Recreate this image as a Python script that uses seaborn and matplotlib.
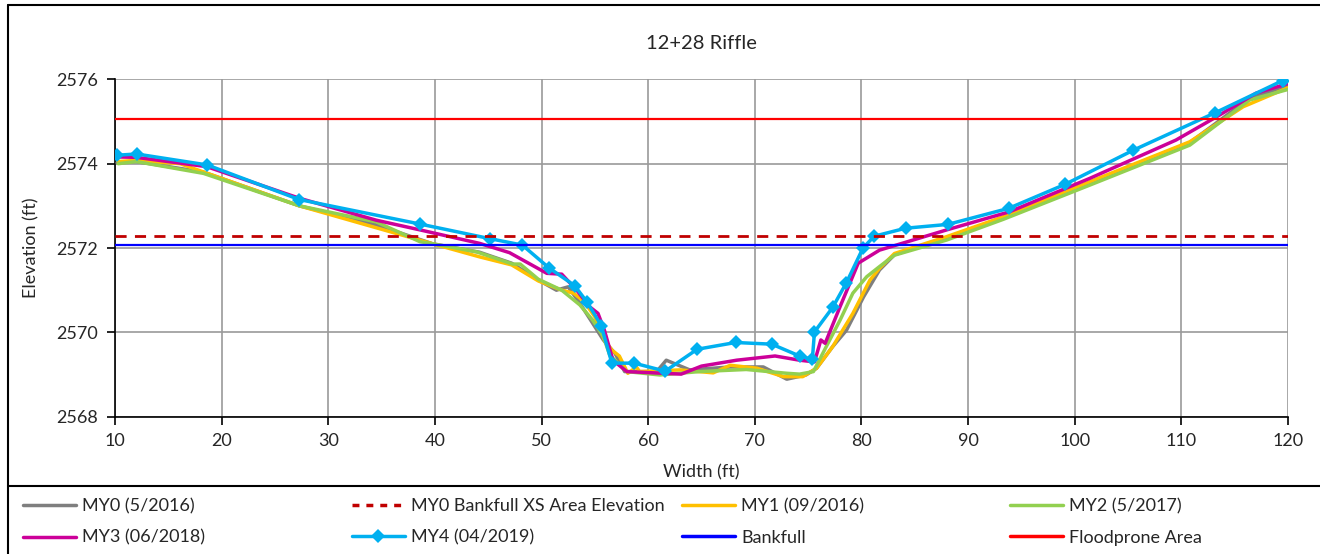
"""
12+28 Riffle 断面图
"""
import matplotlib
matplotlib.use('Agg')
import matplotlib.pyplot as plt
from matplotlib.lines import Line2D
import seaborn as sns
import pandas as pd

# 数据
my0_x = [10.2, 12.0, 18.3, 27.3, 34.5, 39.8, 44.2, 47.2, 49.7, 51.4, 52.5, 53.6, 55.8, 56.9, 57.8,
         60.8, 61.7, 63.9, 67.7, 70.8, 73.0, 74.8, 75.8, 77.3, 78.6, 80.2, 81.7, 83.1, 88.0, 93.3,
         101.4, 110.8, 116.4, 120.0]
my0_y = [2574.02, 2574.05, 2573.8, 2573.0, 2572.55, 2572.1, 2571.9, 2571.64, 2571.24, 2571.0, 2571.08,
         2570.69, 2569.82, 2569.5, 2569.07, 2569.07, 2569.34, 2569.11, 2569.18, 2569.18, 2568.89,
         2568.99, 2569.15, 2569.66, 2570.05, 2570.84, 2571.48, 2571.84, 2572.24, 2572.72, 2573.53,
         2574.5, 2575.55, 2575.84]

my1_x = [10.3, 12.0, 16.1, 27.3, 35.2, 39.8, 44.2, 47.2, 49.7, 51.9, 53.0, 54.0, 55.0, 55.9, 56.6,
         57.3, 58.1, 58.9, 59.2, 63.0, 66.1, 67.7, 70.2, 72.7, 74.5, 75.8, 77.3, 79.2, 80.8, 81.7,
         83.1, 88.0, 93.3, 101.4, 110.8, 115.8, 120.0]
my1_y = [2574.05, 2574.08, 2574.0, 2573.0, 2572.43, 2572.1, 2571.79, 2571.6, 2571.22, 2571.0, 2570.93,
         2570.73, 2570.37, 2569.82, 2569.58, 2569.44, 2569.03, 2569.18, 2569.07, 2569.11, 2569.04,
         2569.22, 2569.15, 2568.95, 2568.95, 2569.15, 2569.66, 2570.45, 2571.24, 2571.52, 2571.87,
         2572.27, 2572.74, 2573.57, 2574.52, 2575.35, 2575.8]

my2_x = [10.3, 12.0, 18.3, 27.3, 34.5, 38.6, 39.8, 43.9, 47.3, 48.0, 49.7, 51.9, 53.6, 54.8, 55.8,
         56.4, 58.0, 61.1, 64.8, 69.2, 73.0, 74.2, 75.5, 76.7, 78.0, 79.2, 80.5, 81.7, 83.1, 88.0,
         93.3, 101.4, 110.8, 116.4, 120.0]
my2_y = [2574.0, 2574.05, 2573.77, 2573.0, 2572.62, 2572.15, 2572.1, 2571.91, 2571.62, 2571.62,
         2571.26, 2571.0, 2570.65, 2570.29, 2569.9, 2569.46, 2569.07, 2568.99, 2569.07, 2569.12,
         2569.03, 2569.01, 2569.07, 2569.66, 2570.29, 2570.93, 2571.32, 2571.56, 2571.83, 2572.19,
         2572.68, 2573.49, 2574.44, 2575.51, 2575.76]

my3_x = [10.2, 12.0, 18.6, 27.3, 34.5, 38.6, 44.2, 47.0, 50.5, 51.9, 53.3, 54.5, 55.3, 55.9, 56.7,
         58.0, 63.1, 65.0, 68.3, 71.9, 74.2, 75.6, 76.2, 76.6, 78.0, 79.7, 81.7, 88.0, 93.9, 101.4,
         109.5, 113.3, 117.0, 120.0]
my3_y = [2574.16, 2574.15, 2573.93, 2573.18, 2572.66, 2572.43, 2572.11, 2571.89, 2571.4, 2571.38,
         2571.0, 2570.61, 2570.45, 2570.05, 2569.34, 2569.07, 2569.01, 2569.2, 2569.34, 2569.44,
         2569.34, 2569.3, 2569.82, 2569.74, 2570.61, 2571.64, 2571.95, 2572.43, 2572.86, 2573.65,
         2574.56, 2575.11, 2575.67, 2575.9]

my4_x = [10.16, 12.03, 18.65, 27.28, 38.58, 45.2, 48.2, 50.7, 53.1, 54.3, 55.6, 56.6, 58.7, 61.6,
         64.6, 68.2, 71.6, 74.2, 75.4, 75.6, 77.3, 78.6, 80.15, 81.2, 84.15, 88.1, 93.8, 99.1, 105.5,
         113.2, 119.5]
my4_y = [2574.2, 2574.23, 2573.97, 2573.15, 2572.57, 2572.22, 2572.07, 2571.53, 2571.11, 2570.71,
         2570.16, 2569.27, 2569.27, 2569.08, 2569.6, 2569.76, 2569.72, 2569.44, 2569.36, 2570.01,
         2570.59, 2571.18, 2572.0, 2572.28, 2572.47, 2572.56, 2572.94, 2573.51, 2574.32, 2575.21,
         2575.97]

bankfull_xs_elev = 2572.29
bankfull_elev = 2572.07
floodprone_elev = 2575.07

# 图形设置
sns.set_style('white')
plt.rcParams['font.family'] = ['Lato', 'DejaVu Sans']

fig = plt.figure(figsize=(13.2, 5.54), dpi=100)
ax = fig.add_axes([0.0871, 0.2478, 0.8886, 0.6090])

grid_color = '#9a9a9a'
ax.set_axisbelow(True)
ax.grid(True, color=grid_color, linewidth=1.2)

series = [
    ('MY0 (5/2016)', my0_x, my0_y, '#7f7f7f'),
    ('MY1 (09/2016)', my1_x, my1_y, '#ffc000'),
    ('MY2 (5/2017)', my2_x, my2_y, '#92d050'),
    ('MY3 (06/2018)', my3_x, my3_y, '#cc0099'),
]
for name, xs, ys, c in series:
    df = pd.DataFrame({'x': xs, 'y': ys})
    sns.lineplot(data=df, x='x', y='y', sort=False, estimator=None, color=c,
                 linewidth=2.5, ax=ax, zorder=3)

df4 = pd.DataFrame({'x': my4_x, 'y': my4_y})
sns.lineplot(data=df4, x='x', y='y', sort=False, estimator=None, color='#00b0f0',
             linewidth=2.5, marker='D', markersize=7.5, markeredgewidth=0,
             ax=ax, zorder=4)

ax.axhline(bankfull_xs_elev, color='#c00000', linewidth=2, linestyle=(0, (4, 3)), zorder=5)
ax.axhline(bankfull_elev, color='#0000ff', linewidth=1.6, zorder=5)
ax.axhline(floodprone_elev, color='#ff0000', linewidth=1.6, zorder=5)

ax.set_xlim(10, 120)
ax.set_ylim(2568, 2576)
ax.set_xticks(range(10, 121, 10))
ax.set_yticks(range(2568, 2577, 2))
for s in ['top', 'right']:
    ax.spines[s].set_visible(False)
for s in ['left', 'bottom']:
    ax.spines[s].set_color('black')
    ax.spines[s].set_linewidth(1.2)
ax.tick_params(axis='both', direction='out', length=6, width=1.2, color='black',
               labelsize=13, pad=6, bottom=True, left=True)
ax.set_xlabel('Width (ft)', fontsize=13, labelpad=11)
ax.set_ylabel('Elevation (ft)', fontsize=13, labelpad=12)
ax.set_title('12+28 Riffle', fontsize=14.5, pad=22)

# 外框和图例分隔线
fig.add_artist(Line2D([8 / 1320, 1], [1 - 5 / 554, 1 - 5 / 554], color='black', linewidth=1.5,
                      transform=fig.transFigure))
fig.add_artist(Line2D([8 / 1320, 8 / 1320], [0, 1 - 5 / 554], color='black', linewidth=1.5,
                      transform=fig.transFigure))
fig.add_artist(Line2D([8 / 1320, 1], [1 - 486 / 554, 1 - 486 / 554], color='black', linewidth=1.5,
                      transform=fig.transFigure))

# 图例：四列
def h(color, ls='-', marker=None):
    return Line2D([], [], color=color, linewidth=2.5, linestyle=ls, marker=marker,
                  markersize=7.5, markeredgewidth=0)

columns = [
    [(h('#7f7f7f'), 'MY0 (5/2016)'), (h('#cc0099'), 'MY3 (06/2018)')],
    [(h('#c00000', (0, (2, 2))), 'MY0 Bankfull XS Area Elevation'),
     (h('#00b0f0', marker='D'), 'MY4 (04/2019)')],
    [(h('#ffc000'), 'MY1 (09/2016)'), (h('#0000ff'), 'Bankfull')],
    [(h('#92d050'), 'MY2 (5/2017)'), (h('#ff0000'), 'Floodprone Area')],
]
col_x = [16, 345, 675, 1003]
for cx, col in zip(col_x, columns):
    fig.legend([c[0] for c in col], [c[1] for c in col], loc='upper left',
               bbox_to_anchor=(cx / 1320, 1 - 491 / 554), frameon=False,
               fontsize=13, handlelength=2.9, handletextpad=0.35,
               labelspacing=0.85, borderaxespad=0)

fig.savefig('out.png', dpi=100)
